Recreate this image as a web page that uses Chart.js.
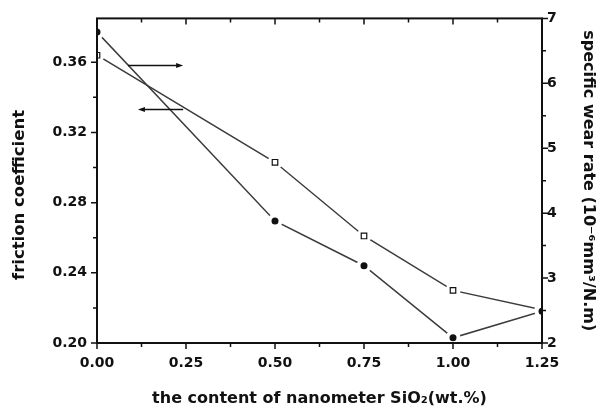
<!DOCTYPE html>
<html>
<head>
<meta charset="utf-8">
<script src="https://cdn.jsdelivr.net/npm/chart.js@4.4.0/dist/chart.umd.min.js"></script>
<style>
    html, body { margin: 0; padding: 0; background: #fff; }
    #wrap { width: 598px; height: 410px; }
</style>
</head>
<body>
<div id="wrap"><canvas id="chart" width="598" height="410"></canvas></div>
<script>
// data
const contentSiO2 = [0, 0.5, 0.75, 1.0, 1.25];
const frictionCoef = [0.364, 0.303, 0.261, 0.230, 0.219];
const wearRate = [6.79, 3.88, 3.19, 2.08, 2.49];

const xTicks = [0, 0.25, 0.5, 0.75, 1.0, 1.25];
const frictionTicks = [0.20, 0.24, 0.28, 0.32, 0.36];
const wearTicks = [2, 3, 4, 5, 6, 7];

const INK = '#111';
const LINE = '#3c3c3c';
const FONT = 'DejaVu Sans, Verdana, sans-serif';

const toPoints = (xs, ys) => xs.map((x, i) => ({ x, y: ys[i] }));
const midpoints = arr => arr.slice(1).map((v, i) => (v + arr[i]) / 2);

// frame, major/minor ticks, arrows and the left title (sits lower than the axis centre)
const frameAndTicks = {
    id: 'frameAndTicks',
    afterDraw(chart) {
        const { ctx, chartArea: a, scales: { x, y, y1 } } = chart;
        ctx.save();
        ctx.strokeStyle = INK;
        ctx.fillStyle = INK;

        ctx.lineWidth = 1.5;
        ctx.beginPath();
        const tick = (px, py, dx, dy) => { ctx.moveTo(px, py); ctx.lineTo(px + dx, py + dy); };

        xTicks.forEach(v => {
            const px = x.getPixelForValue(v);
            tick(px, a.bottom, 0, 6);
            tick(px, a.top, 0, 6);
        });
        midpoints(xTicks).forEach(v => {
            const px = x.getPixelForValue(v);
            tick(px, a.bottom, 0, 4);
            tick(px, a.top, 0, 4);
        });
        frictionTicks.forEach(v => tick(a.left, y.getPixelForValue(v), -6, 0));
        midpoints(frictionTicks).forEach(v => tick(a.left, y.getPixelForValue(v), -4, 0));
        wearTicks.forEach(v => tick(a.right, y1.getPixelForValue(v), 6, 0));
        midpoints(wearTicks).forEach(v => tick(a.right, y1.getPixelForValue(v), 4, 0));
        ctx.stroke();

        ctx.lineWidth = 2;
        ctx.strokeRect(a.left, a.top, a.right - a.left, a.bottom - a.top);

        // arrows pointing to the axis of each curve
        const arrow = (x0, x1, yv) => {
            const px0 = x.getPixelForValue(x0);
            const px1 = x.getPixelForValue(x1);
            const py = Math.round(y.getPixelForValue(yv)) + 0.5;
            const dir = Math.sign(px1 - px0);
            ctx.lineWidth = 1.3;
            ctx.beginPath();
            ctx.moveTo(px0, py);
            ctx.lineTo(px1 - dir * 4, py);
            ctx.stroke();
            ctx.beginPath();
            ctx.moveTo(px1, py);
            ctx.lineTo(px1 - dir * 7, py - 2.5);
            ctx.lineTo(px1 - dir * 7, py + 2.5);
            ctx.closePath();
            ctx.fill();
        };
        arrow(0.087, 0.242, 0.3585);
        arrow(0.242, 0.115, 0.3335);

        ctx.translate(20, 195);
        ctx.rotate(-Math.PI / 2);
        ctx.font = `bold 16.5px ${FONT}`;
        ctx.textAlign = 'center';
        ctx.textBaseline = 'middle';
        ctx.fillText('friction coefficient', 0, 0);

        ctx.restore();
    }
};

const tickFont = { family: FONT, size: 14, weight: 'bold' };
const titleFont = { family: FONT, size: 16, weight: 'bold' };

new Chart(document.getElementById('chart'), {
    type: 'scatter',
    data: {
        datasets: [
            {
                // friction coefficient line
                data: toPoints(contentSiO2, frictionCoef),
                yAxisID: 'y',
                showLine: true,
                borderColor: LINE,
                borderWidth: 1.5,
                pointRadius: 0,
                order: 3
            },
            {
                // white gap around the square markers
                data: toPoints(contentSiO2, frictionCoef),
                yAxisID: 'y',
                showLine: false,
                pointStyle: 'circle',
                pointRadius: 7.5,
                pointBackgroundColor: '#fff',
                pointBorderWidth: 0,
                order: 2
            },
            {
                data: toPoints(contentSiO2, frictionCoef),
                yAxisID: 'y',
                showLine: false,
                pointStyle: 'rect',
                pointRadius: 3.9,
                pointBackgroundColor: '#fff',
                pointBorderColor: INK,
                pointBorderWidth: 1.2,
                order: 1
            },
            {
                // specific wear rate, filled circles with a white halo
                data: toPoints(contentSiO2, wearRate),
                yAxisID: 'y1',
                showLine: true,
                borderColor: LINE,
                borderWidth: 1.5,
                pointStyle: 'circle',
                pointRadius: 5.5,
                pointBackgroundColor: INK,
                pointBorderColor: '#fff',
                pointBorderWidth: 4,
                order: 0
            }
        ]
    },
    options: {
        responsive: false,
        animation: false,
        events: [],
        layout: { padding: { top: 18, left: 0, right: 0, bottom: 0 } },
        plugins: {
            legend: { display: false },
            tooltip: { enabled: false }
        },
        scales: {
            x: {
                type: 'linear',
                min: 0,
                max: 1.25,
                grid: { display: false, drawTicks: false },
                border: { display: false },
                afterBuildTicks: s => { s.ticks = xTicks.map(v => ({ value: v })); },
                afterFit: s => { s.height = 67; },
                ticks: {
                    color: INK,
                    font: tickFont,
                    padding: 12,
                    maxRotation: 0,
                    callback: v => v.toFixed(2)
                },
                title: {
                    display: true,
                    text: 'the content of nanometer SiO\u2082(wt.%)',
                    color: INK,
                    font: titleFont,
                    padding: { top: 0, bottom: 2 }
                }
            },
            y: {
                type: 'linear',
                position: 'left',
                min: 0.20,
                max: 0.385,
                grid: { display: false, drawTicks: false },
                border: { display: false },
                afterBuildTicks: s => { s.ticks = frictionTicks.map(v => ({ value: v })); },
                afterFit: s => { s.width = 97; },
                ticks: {
                    color: INK,
                    font: tickFont,
                    padding: 10,
                    callback: v => v.toFixed(2)
                },
                title: { display: false }
            },
            y1: {
                type: 'linear',
                position: 'right',
                min: 2,
                max: 7,
                grid: { display: false, drawTicks: false },
                border: { display: false },
                afterBuildTicks: s => { s.ticks = wearTicks.map(v => ({ value: v })); },
                afterFit: s => { s.width = 56; },
                ticks: {
                    color: INK,
                    font: tickFont,
                    padding: 5,
                    callback: v => String(v)
                },
                title: {
                    display: true,
                    text: 'specific wear rate (10\u207B\u2076mm\u00B3/N.m)',
                    color: INK,
                    font: titleFont,
                    padding: { top: 0, bottom: 0 }
                }
            }
        }
    },
    plugins: [frameAndTicks]
});
</script>
</body>
</html>
